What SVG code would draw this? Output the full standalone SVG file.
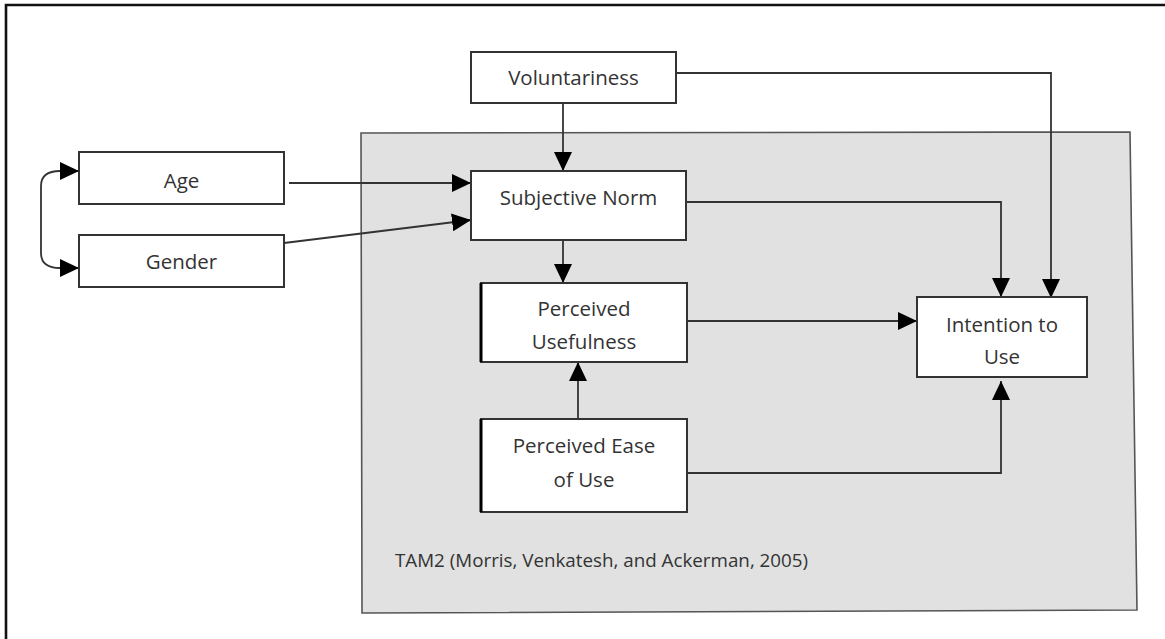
<svg xmlns="http://www.w3.org/2000/svg" width="1165" height="639" viewBox="0 0 1165 639">
<style>
.box{fill:#fff;stroke:#333;stroke-width:2}
.t{font-family:"Open Sans","Liberation Sans",sans-serif;font-size:20.5px;fill:#333;text-anchor:middle}
.cap{font-family:"Open Sans","Liberation Sans",sans-serif;font-size:18.8px;fill:#333}
.c{fill:none;stroke:#333;stroke-width:1.8}
</style>
<defs>
<marker id="ah" markerUnits="userSpaceOnUse" markerWidth="20" markerHeight="18" refX="19" refY="9" orient="auto">
<path d="M0,0 L19,9 L0,18 z" fill="#000"/>
</marker>
</defs>
<rect width="1165" height="639" fill="#fff"/>
<path d="M6,639 L6,5 L1165,5" fill="none" stroke="#111" stroke-width="2.6"/>
<g id="tam2">
<polygon points="361,133 1130,132 1137,610 362,613" fill="#e0e1e0" stroke="#555" stroke-width="1.6"/>
<text class="cap" x="395" y="567">TAM2 (Morris, Venkatesh, and Ackerman, 2005)</text>
</g>
<g id="connectors">
<path class="c" d="M563,103 L563,171" marker-end="url(#ah)"/>
<path class="c" d="M676,73 L1051,73 L1051,298" marker-end="url(#ah)"/>
<path class="c" d="M686,202 L1001,202 L1001,297" marker-end="url(#ah)"/>
<path class="c" d="M563,240 L563,283" marker-end="url(#ah)"/>
<path class="c" d="M687,321 L917,321" marker-end="url(#ah)"/>
<path class="c" d="M578,419 L578,362" marker-end="url(#ah)"/>
<path class="c" d="M687,473 L1001,473 L1001,381" marker-end="url(#ah)"/>
<path class="c" d="M289,183 L471,183" marker-end="url(#ah)"/>
<path class="c" d="M284,243 L471,220" marker-end="url(#ah)"/>
<path class="c" d="M79,171 L60,171 Q41,171 41,186 L41,253 Q41,268 60,268 L79,268" marker-end="url(#ah)"/>
<path d="M79,171 L60,162 L60,180 z" fill="#000"/>
</g>
<g id="voluntariness">
<rect class="box" x="471" y="52" width="205" height="51"/>
<text class="t" x="573.5" y="85">Voluntariness</text>
</g>
<g id="age">
<rect class="box" x="79" y="152" width="205" height="52"/>
<text class="t" x="181.5" y="188">Age</text>
</g>
<g id="gender">
<rect class="box" x="79" y="235" width="205" height="52"/>
<text class="t" x="181.5" y="269">Gender</text>
</g>
<g id="subjective-norm">
<rect class="box" x="471" y="171" width="215" height="69"/>
<text class="t" x="578.5" y="205">Subjective Norm</text>
</g>
<g id="perceived-usefulness">
<rect class="box" x="481" y="283" width="206" height="79"/>
<line x1="481" y1="283" x2="481" y2="362" stroke="#000" stroke-width="3"/>
<text class="t" x="584" y="316">Perceived</text>
<text class="t" x="584" y="349">Usefulness</text>
</g>
<g id="perceived-ease-of-use">
<rect class="box" x="481" y="419" width="206" height="93"/>
<line x1="481" y1="419" x2="481" y2="512" stroke="#000" stroke-width="3"/>
<text class="t" x="584" y="453">Perceived Ease</text>
<text class="t" x="584" y="487">of Use</text>
</g>
<g id="intention-to-use">
<rect class="box" x="917" y="297" width="170" height="80"/>
<text class="t" x="1002" y="332">Intention to</text>
<text class="t" x="1002" y="364">Use</text>
</g>
</svg>
